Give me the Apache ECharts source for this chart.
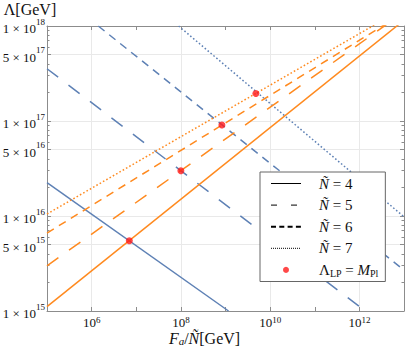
<!DOCTYPE html>
<html><head><meta charset="utf-8">
<script src="https://cdn.jsdelivr.net/npm/echarts@6/dist/echarts.min.js"></script>
<style>html,body{margin:0;padding:0;background:#fff}#c{width:409px;height:351px}</style>
</head><body><div id="c"></div>
<script>
const SERIF = '"Liberation Serif","DejaVu Serif","Times New Roman",serif';

// Series names / legend labels
const nNames = ['Ñ = 4', 'Ñ = 5', 'Ñ = 6', 'Ñ = 7'];
const lpName = 'ΛLP = MPl';

// Blue (descending) lines: [Fa/Ñ (GeV), Λ (GeV)] endpoints
const blueN4 = [[1e5, 2.24e16], [1.17e9, 1e15]];
const blueN5 = [[1e5, 3.55e17], [1.35e12, 1e15]];
const blueN6 = [[1.41e6, 1e18], [1e13, 2.69e15]];
const blueN7 = [[8.9e7, 1e18], [1e13, 9.8e15]];

// Orange (rising) lines
const orangeN4 = [[1e5, 1.11e15], [1e13, 1.15e18]];
const orangeN5 = [[1e5, 2.99e15], [1e13, 1.40e18]];
const orangeN6 = [[1e5, 6.61e15], [1e13, 1.38e18]];
const orangeN7 = [[1e5, 1.05e16], [1e13, 1.55e18]];

// Red points Λ_LP = M_Pl
const lpPoints = [[7.0e6, 5.5e15], [1.0e8, 3.0e16], [8.3e8, 9.08e16], [4.8e9, 1.95e17]];

// Axis ticks
const xRange = [1e5, 1e13];
const yRange = [1e15, 1e18];
const xLabelTicks = [1e6, 1e8, 1e10, 1e12];
const xOtherTicks = [1e5, 1e7, 1e9, 1e11, 1e13];
const yMajorTicks = [1e15, 5e15, 1e16, 5e16, 1e17, 5e17, 1e18];
const yMinorTicks = [2e15, 3e15, 4e15, 6e15, 7e15, 8e15, 9e15,
                     2e16, 3e16, 4e16, 6e16, 7e16, 8e16, 9e16,
                     2e17, 3e17, 4e17, 6e17, 7e17, 8e17, 9e17];

const BLUE = '#5e81b5';
const ORANGE = '#ff8a1f';
const RED = '#ff1a1a';
const FRAME = '#8c8c8c';
const GRID = '#e9e9e9';

const lg = v => Math.log10(v);

function yLabel(v) {
  const e = Math.floor(v + 1e-6);
  const m = Math.round(Math.pow(10, v - e));
  return '{m|' + m + ' × 10}{e|' + e + '}';
}
function xLabel(v) {
  return '{m|10}{e|' + Math.round(v) + '}';
}
const yLabelRich = {
  m: {fontFamily: SERIF, fontSize: 13, color: '#111', lineHeight: 18, verticalAlign: 'bottom'},
  e: {fontFamily: SERIF, fontSize: 9, color: '#111', lineHeight: 9, verticalAlign: 'top'}
};
const xLabelRich = {
  m: {fontFamily: SERIF, fontSize: 13, color: '#111', lineHeight: 14, verticalAlign: 'bottom'},
  e: {fontFamily: SERIF, fontSize: 9, color: '#111', lineHeight: 6, verticalAlign: 'top'}
};

function decoAxis(pos, ticks, len, opts) {
  const isX = pos === 'top' || pos === 'bottom';
  const base = {
    type: 'value', position: pos, gridIndex: 0,
    min: isX ? lg(xRange[0]) : lg(yRange[0]),
    max: isX ? lg(xRange[1]) : lg(yRange[1]),
    silent: true,
    axisLine: {show: false, onZero: false, lineStyle: {color: FRAME, width: 1}},
    axisTick: {show: true, inside: true, length: len, customValues: ticks.map(lg), lineStyle: {color: FRAME, width: 1}},
    axisLabel: {show: false},
    splitLine: {show: false},
    nameMoveOverlap: false
  };
  return Object.assign(base, opts || {});
}

const xAxes = [
  {type: 'log', logBase: 10, min: xRange[0], max: xRange[1], show: false, gridIndex: 0},
  decoAxis('bottom', xLabelTicks, 4, {
    axisLine: {show: true, onZero: false, lineStyle: {color: FRAME, width: 1}},
    axisLabel: {show: true, customValues: xLabelTicks.map(lg), formatter: xLabel, rich: xLabelRich, margin: 4, hideOverlap: false},
    splitLine: {show: true, lineStyle: {color: GRID, width: 1}}
  }),
  decoAxis('bottom', xOtherTicks, 4, {
    name: '{i|F}{sub|a}{r|/}{i|Ñ}{r|[GeV]}{pad| }',
    nameLocation: 'middle', nameGap: 18.5,
    nameTextStyle: {rich: {
      i: {fontFamily: SERIF, fontStyle: 'italic', fontSize: 16, color: '#111', lineHeight: 17},
      r: {fontFamily: SERIF, fontSize: 16, color: '#111', lineHeight: 17},
      sub: {fontFamily: SERIF, fontStyle: 'italic', fontSize: 11, color: '#111', lineHeight: 11, verticalAlign: 'bottom'},
      pad: {width: 42}
    }}
  }),
  decoAxis('top', xLabelTicks.concat(xOtherTicks), 4, {
    axisLine: {show: true, onZero: false, lineStyle: {color: FRAME, width: 1}}
  })
];

const yAxes = [
  {type: 'log', logBase: 10, min: yRange[0], max: yRange[1], show: false, gridIndex: 0},
  decoAxis('left', yMajorTicks, 4, {
    axisLine: {show: true, onZero: false, lineStyle: {color: FRAME, width: 1}},
    axisLabel: {show: true, customValues: yMajorTicks.map(lg), formatter: yLabel, rich: yLabelRich, margin: 2},
    splitLine: {show: true, lineStyle: {color: GRID, width: 1}},
    name: '{r|Λ[GeV]}{pad| }',
    nameLocation: 'end', nameGap: 7,
    nameTextStyle: {rich: {
      r: {fontFamily: SERIF, fontSize: 16, color: '#111', lineHeight: 20},
      pad: {width: 34}
    }}
  }),
  decoAxis('left', yMinorTicks, 2.5),
  decoAxis('right', yMajorTicks, 4, {
    axisLine: {show: true, onZero: false, lineStyle: {color: FRAME, width: 1}}
  }),
  decoAxis('right', yMinorTicks, 2.5)
];

function lineSeries(name, data, color, type) {
  return {
    type: 'line', name: name, data: data, xAxisIndex: 0, yAxisIndex: 0,
    symbol: 'none', showSymbol: false, silent: true, animation: false, clip: true, z: 2,
    lineStyle: {color: color, width: 1.5, type: type, cap: 'butt'},
    itemStyle: {color: color}
  };
}
const dashN = ['solid', [14, 13], [8, 6], [1.6, 2.2]];
const blues = [blueN4, blueN5, blueN6, blueN7];
const oranges = [orangeN4, orangeN5, orangeN6, orangeN7];

const series = [];
blues.forEach((d, i) => series.push(lineSeries(nNames[i], d, BLUE, dashN[i])));
oranges.forEach((d, i) => series.push(lineSeries(nNames[i], d, ORANGE, dashN[i])));
series.push({
  type: 'scatter', name: lpName, data: lpPoints, xAxisIndex: 0, yAxisIndex: 0,
  symbol: 'circle', symbolSize: 7, silent: true, animation: false, z: 5,
  itemStyle: {color: RED}
});

const legendDash = ['solid', [6, 14], [5, 3.3], [1, 1]];
const legendWidth = [1, 1, 2, 1];
const legendData = nNames.map((n, i) => ({
  name: n,
  lineStyle: {color: '#000', width: legendWidth[i], type: legendDash[i], cap: 'butt'},
  itemStyle: {color: 'rgba(0,0,0,0)', borderWidth: 0, opacity: 0}
}));
legendData.push({name: lpName, icon: 'circle', itemStyle: {color: RED}});

const chart = echarts.init(document.getElementById('c'), null, {renderer: 'svg'});
chart.setOption({
  animation: false,
  backgroundColor: '#fff',
  grid: {left: 47, right: 5, top: 26, bottom: 40, containLabel: false, outerBoundsMode: 'none'},
  xAxis: xAxes,
  yAxis: yAxes,
  legend: {
    show: true, orient: 'vertical', left: 260, top: 172, selectedMode: false,
    itemWidth: 30, itemHeight: 6, itemGap: 6.6,
    padding: [4, 7, 2.6, 10],
    borderColor: '#666', borderWidth: 1, backgroundColor: '#fff', borderRadius: 0,
    data: legendData,
    formatter: function (name) {
      if (name === lpName) return '{pad| }{r|Λ}{s|LP}{r| = }{i|M}{s|Pl}';
      return '{pad| }{i|Ñ}{r|' + name.slice(1) + '}';
    },
    textStyle: {
      fontFamily: SERIF, fontSize: 15, color: '#111',
      rich: {
        pad: {width: 13},
        i: {fontFamily: SERIF, fontStyle: 'italic', fontSize: 15, color: '#111', lineHeight: 18},
        r: {fontFamily: SERIF, fontSize: 15, color: '#111', lineHeight: 18},
        s: {fontFamily: SERIF, fontSize: 10, color: '#111', lineHeight: 10, verticalAlign: 'bottom'}
      }
    }
  },
  series: series
});
</script></body></html>
